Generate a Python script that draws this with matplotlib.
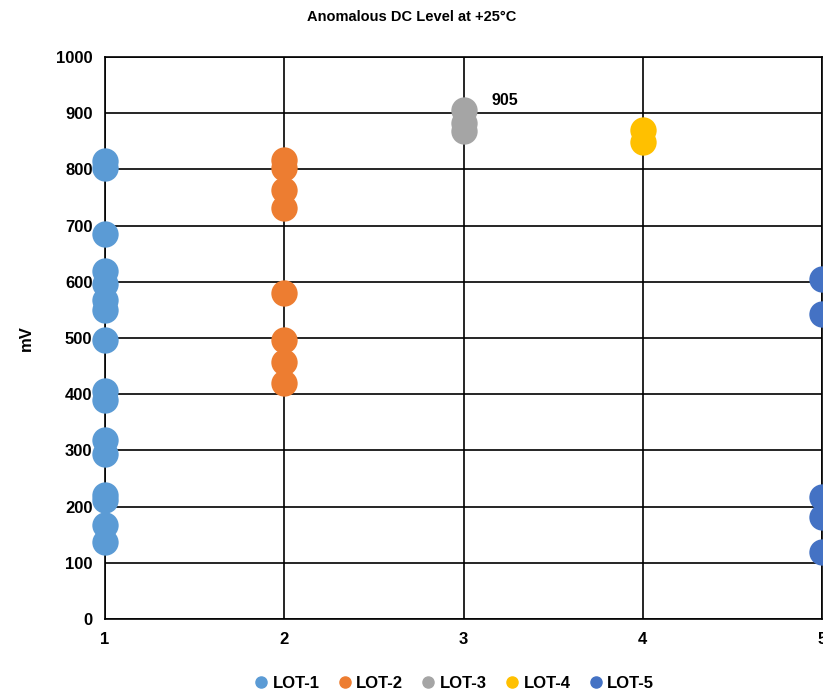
import matplotlib
matplotlib.use("Agg")
import matplotlib.pyplot as plt

plt.rcParams['font.family'] = ['Liberation Sans', 'DejaVu Sans']

# values (mV)
lot1 = [815, 803, 685, 620, 597, 568, 550, 497, 405, 390, 318, 293, 220, 212, 167, 137]
lot2 = [817, 802, 763, 731, 580, 497, 457, 420]
lot3 = [905, 882, 868]
lot4 = [870, 848]
lot5 = [605, 543, 217, 182, 119]

series = [("LOT-1", 1, lot1, "#5b9bd5"),
          ("LOT-2", 2, lot2, "#ed7d31"),
          ("LOT-3", 3, lot3, "#a5a5a5"),
          ("LOT-4", 4, lot4, "#ffc000"),
          ("LOT-5", 5, lot5, "#4472c4")]

x_ticks = [1, 2, 3, 4, 5]
y_ticks = [0, 100, 200, 300, 400, 500, 600, 700, 800, 900, 1000]

fig = plt.figure(figsize=(8.23, 6.91), dpi=100)
ax = fig.add_axes([0.1276, 0.104, 0.8712, 0.8135])

for name, xpos, vals, color in series:
    ax.scatter([xpos] * len(vals), vals, s=360, color=color, label=name,
               clip_on=False, zorder=3, linewidths=0)

ax.annotate(str(max(lot3)), (3, max(lot3)), xytext=(20, 4), textcoords='offset points',
            fontsize=11.5, fontweight='bold')

ax.set_xlim(1, 5)
ax.set_ylim(0, 1000)
ax.set_xticks(x_ticks)
ax.set_yticks(y_ticks)
ax.grid(True, color='black', linewidth=1.2)
ax.set_axisbelow(True)
for sp in ax.spines.values():
    sp.set_color('black')
    sp.set_linewidth(1.2)
ax.tick_params(length=0, labelsize=12, pad=9)
for lbl in ax.get_xticklabels() + ax.get_yticklabels():
    lbl.set_fontweight('bold')

ax.set_ylabel('mV', fontsize=12, fontweight='bold', labelpad=16)
fig.suptitle('Anomalous DC Level at +25°C', fontsize=10.5, fontweight='bold', y=0.985)

handles = [plt.Line2D([], [], marker='o', linestyle='', color=c, markersize=8)
           for _, _, _, c in series]
fig.legend(handles, [s[0] for s in series], loc='lower center', ncol=5,
           bbox_to_anchor=(0.546, -0.022), frameon=False, handletextpad=-0.3,
           columnspacing=0.5, prop={'weight': 'bold', 'size': 12})

fig.savefig('out.png', dpi=100)
